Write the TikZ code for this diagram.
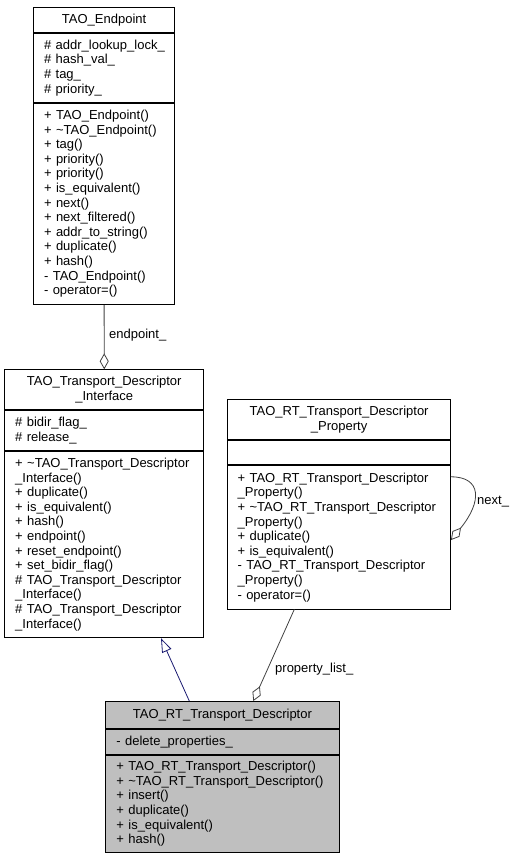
\documentclass[tikz,border=0pt]{standalone}
\usepackage{fontspec}
\setmainfont{Liberation Sans}
\usetikzlibrary{arrows.meta}
\definecolor{edgegray}{HTML}{404040}
\definecolor{navyedge}{HTML}{191970}
\definecolor{clsgray}{HTML}{BFBFBF}
\begin{document}
\begin{tikzpicture}[x=1pt,y=-1pt,
  every node/.style={font=\fontsize{13}{14.6}\selectfont},
  cls/.style={draw=black, line width=0.9pt, anchor=north west, inner xsep=0pt, inner ysep=0pt, fill=white},
  ttl/.style={cls, align=center},
  mem/.style={cls, align=left},
  agg/.style={draw=edgegray, line width=0.8pt, -{Diamond[open, length=16pt, width=9pt, fill=white]}},
  inh/.style={draw=navyedge, line width=0.8pt, -{Triangle[open, length=14pt, width=10pt, fill=white]}},
  lbl/.style={anchor=west, inner sep=0pt}
]
\useasboundingbox (0,0) rectangle (516,859);

% TAO_Endpoint
\node[ttl, minimum width=141.3pt, text width=125pt, minimum height=25.6pt] (ept) at (33,6.7) {TAO\_Endpoint};
\node[mem, minimum width=141.3pt, text width=120pt, minimum height=68.4pt] (epa) at (ept.south west)
 {\#~addr\_lookup\_lock\_\\\#~hash\_val\_\\\#~tag\_\\\#~priority\_};
\node[mem, minimum width=141.3pt, text width=120pt, minimum height=201.6pt] (epm) at (epa.south west)
 {+ TAO\_Endpoint()\\+ \textasciitilde TAO\_Endpoint()\\+ tag()\\+ priority()\\+ priority()\\+ is\_equivalent()\\+ next()\\+ next\_filtered()\\+ addr\_to\_string()\\+ duplicate()\\+ hash()\\- TAO\_Endpoint()\\- operator=()};

% TAO_Transport_Descriptor_Interface
\node[ttl, minimum width=199pt, text width=185pt, minimum height=40pt] (ift) at (4.3,369.3) {TAO\_Transport\_Descriptor\\\_Interface};
\node[mem, minimum width=199pt, text width=178pt, minimum height=39.7pt] (ifa) at (ift.south west)
 {\#~bidir\_flag\_\\\#~release\_};
\node[mem, minimum width=199pt, text width=178pt, minimum height=186.5pt] (ifm) at (ifa.south west)
 {+~\textasciitilde TAO\_Transport\_Descriptor\\\_Interface()\\+ duplicate()\\+ is\_equivalent()\\+ hash()\\+ endpoint()\\+ reset\_endpoint()\\+ set\_bidir\_flag()\\\#~TAO\_Transport\_Descriptor\\\_Interface()\\\#~TAO\_Transport\_Descriptor\\\_Interface()};

% TAO_RT_Transport_Descriptor_Property
\node[ttl, minimum width=222.7pt, text width=210pt, minimum height=40pt] (prt) at (227.3,399) {TAO\_RT\_Transport\_Descriptor\\\_Property};
\node[mem, minimum width=222.7pt, text width=203pt, minimum height=24.3pt] (pra) at (prt.south west) {};
\node[mem, minimum width=222.7pt, text width=203pt, minimum height=143.4pt] (prm) at (pra.south west)
 {+~TAO\_RT\_Transport\_Descriptor\\\_Property()\\+~\textasciitilde TAO\_RT\_Transport\_Descriptor\\\_Property()\\+ duplicate()\\+ is\_equivalent()\\-~TAO\_RT\_Transport\_Descriptor\\\_Property()\\- operator=()};

% TAO_RT_Transport_Descriptor
\node[ttl, fill=clsgray, minimum width=234pt, text width=222pt, minimum height=26.7pt] (rtt) at (105,701) {TAO\_RT\_Transport\_Descriptor};
\node[mem, fill=clsgray, minimum width=234pt, text width=212pt, minimum height=25.6pt] (rta) at (rtt.south west)
 {- delete\_properties\_};
\node[mem, fill=clsgray, minimum width=234pt, text width=212pt, minimum height=96.7pt] (rtm) at (rta.south west)
 {+~TAO\_RT\_Transport\_Descriptor()\\+~\textasciitilde TAO\_RT\_Transport\_Descriptor()\\+ insert()\\+ duplicate()\\+ is\_equivalent()\\+ hash()};

% connectors
\draw[agg] (epm.south) -- (ift.north);
\node[lbl] (lep) at (109,335) {endpoint\_};

\draw[agg] ([xshift=67pt]prm.south west) -- ([xshift=148.3pt]rtt.north west);
\node[lbl] (lpl) at (275,669) {property\_list\_};

\draw[inh] ([xshift=84.3pt]rtt.north west) -- ([xshift=156.7pt]ifm.south west);

\draw[agg] ([yshift=-11.7pt]prm.north east) .. controls +(31,0) and +(31.2,-38.4) .. ([yshift=-75pt]prm.north east);
\node[lbl] (lnx) at (477,502) {next\_};
\end{tikzpicture}
\end{document}
